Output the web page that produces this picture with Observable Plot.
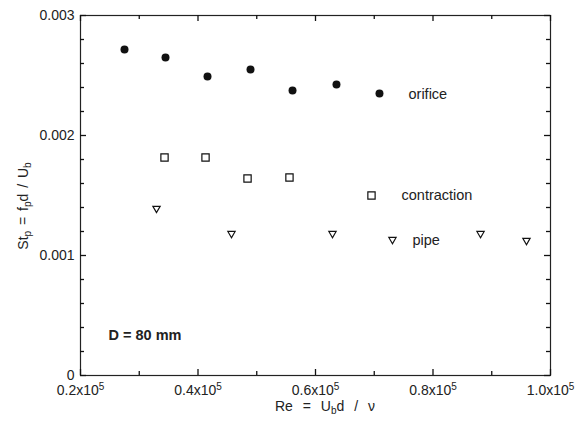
<!DOCTYPE html>
<html><head><meta charset="utf-8">
<script src="https://cdn.jsdelivr.net/npm/d3@7"></script>
<script src="https://cdn.jsdelivr.net/npm/@observablehq/plot@0.6"></script>
<style>body{margin:0;background:#fff} svg{display:block}</style>
</head><body><div id="chart"></div>
<script>
// Data (Re, St_p)
const orificeRe = [27490, 34470, 41620, 48940, 56090, 63570, 70890];
const orificeSt = [0.002717, 0.00265, 0.002492, 0.00255, 0.002375, 0.002425, 0.00235];
const contractionRe = [34300, 41280, 48430, 55570, 69530];
const contractionSt = [0.001817, 0.001817, 0.001642, 0.00165, 0.0015];
const pipeRe = [32940, 45700, 62890, 73100, 88090, 95910];
const pipeSt = [0.001392, 0.001183, 0.001183, 0.001133, 0.001183, 0.001125];
// Series labels
const labelText = ["orifice", "contraction", "pipe"];
const labelRe = [75830, 74640, 76510];
const labelSt = [0.002342, 0.0015, 0.001125];
// Ticks
const xMajor = [20000, 40000, 60000, 80000, 100000];
const xMinor = [30000, 50000, 70000, 90000];
const yMajor = [0, 0.001, 0.002, 0.003];
const yMinor = [0.0002, 0.0004, 0.0006, 0.0008, 0.0012, 0.0014, 0.0016, 0.0018, 0.0022, 0.0024, 0.0026, 0.0028];
const note = "D = 80 mm";
const noteRe = 24770, noteSt = 0.000333;

const W = 576, H = 425, mL = 80, mR = 26, mT = 15, mB = 50;
const fw = W - mL - mR, fh = H - mT - mB;
const toPts = (xs, ys) => xs.map((x, i) => ({x, y: ys[i]}));
const font = "Liberation Sans, Arial, Helvetica, sans-serif";
const ink = "#222";
const tick = {stroke: "#111", strokeWidth: 1.3};

const chart = Plot.plot({
  width: W,
  height: H,
  marginLeft: mL,
  marginRight: mR,
  marginTop: mT,
  marginBottom: mB,
  style: {fontFamily: font, fontSize: "14px", color: ink, background: "#fff"},
  x: {domain: [20000, 100000]},
  y: {domain: [0, 0.003]},
  marks: [
    Plot.frame({stroke: ink, strokeWidth: 1.2}),
    Plot.axisX(xMajor, {tickSize: 0, tickPadding: 10, fontSize: 14,
      tickFormat: d => `${(d / 1e5).toFixed(1)}x10^5`, label: null}),
    Plot.axisY(yMajor, {tickSize: 0, tickPadding: 6, fontSize: 14,
      tickFormat: d => d === 0 ? "0" : d.toFixed(3), label: null}),
    // inward ticks (major 6px, minor 4px) on all four sides
    Plot.ruleX(xMajor, {x: d => d, insetTop: fh - 6, ...tick}),
    Plot.ruleX(xMinor, {x: d => d, insetTop: fh - 4, ...tick}),
    Plot.ruleX(xMajor, {x: d => d, insetBottom: fh - 6, ...tick}),
    Plot.ruleX(xMinor, {x: d => d, insetBottom: fh - 4, ...tick}),
    Plot.ruleY(yMajor, {y: d => d, insetRight: fw - 6, ...tick}),
    Plot.ruleY(yMinor, {y: d => d, insetRight: fw - 4, ...tick}),
    Plot.ruleY(yMajor, {y: d => d, insetLeft: fw - 6, ...tick}),
    Plot.ruleY(yMinor, {y: d => d, insetLeft: fw - 4, ...tick}),
    // data
    Plot.dot(toPts(orificeRe, orificeSt), {x: "x", y: "y", r: 4, fill: "#111", stroke: "none"}),
    Plot.dot(toPts(contractionRe, contractionSt), {x: "x", y: "y", symbol: "square", r: 4.1, fill: "white", stroke: "#111", strokeWidth: 1.2}),
    Plot.dot(toPts(pipeRe, pipeSt), {x: "x", y: "y", symbol: "triangle", rotate: 180, r: 2.7, fill: "white", stroke: "#111", strokeWidth: 1.2}),
    // labels
    Plot.text(labelText.map((t, i) => ({t, x: labelRe[i], y: labelSt[i]})), {x: "x", y: "y", text: "t", textAnchor: "start", fontSize: 14.5, fill: ink}),
    Plot.text([note], {x: () => noteRe, y: () => noteSt, text: d => d, textAnchor: "start", fontSize: 14.5, fontWeight: "bold", fill: ink})
  ]
});

const svg = d3.select(chart);
// superscript exponents on x tick labels
svg.selectAll("g[aria-label='x-axis tick label'] text").each(function() {
  const t = d3.select(this);
  const [base, exp] = t.text().split("^");
  t.text(null);
  t.append("tspan").text(base);
  t.append("tspan").attr("font-size", 10).attr("baseline-shift", "super").text(exp);
});
// Y axis label with subscripts
const yl = svg.append("text")
  .attr("transform", `translate(28,${206}) rotate(-90)`)
  .attr("text-anchor", "middle")
  .attr("word-spacing", 2)
  .attr("font-family", font).attr("font-size", 14).attr("fill", ink);
yl.append("tspan").text("St");
yl.append("tspan").attr("baseline-shift", "-25%").attr("font-size", 10).text("p");
yl.append("tspan").text(" = f");
yl.append("tspan").attr("baseline-shift", "-25%").attr("font-size", 10).text("p");
yl.append("tspan").text("d / U");
yl.append("tspan").attr("baseline-shift", "-25%").attr("font-size", 10).text("b");
// X axis label
const xl = svg.append("text")
  .attr("x", 325).attr("y", 411)
  .attr("text-anchor", "middle")
  .attr("word-spacing", 6)
  .attr("font-family", font).attr("font-size", 14).attr("fill", ink);
xl.append("tspan").text("Re = U");
xl.append("tspan").attr("baseline-shift", "-25%").attr("font-size", 10).text("b");
xl.append("tspan").text("d / \u03bd");

document.getElementById("chart").appendChild(chart);
</script>
</body></html>
